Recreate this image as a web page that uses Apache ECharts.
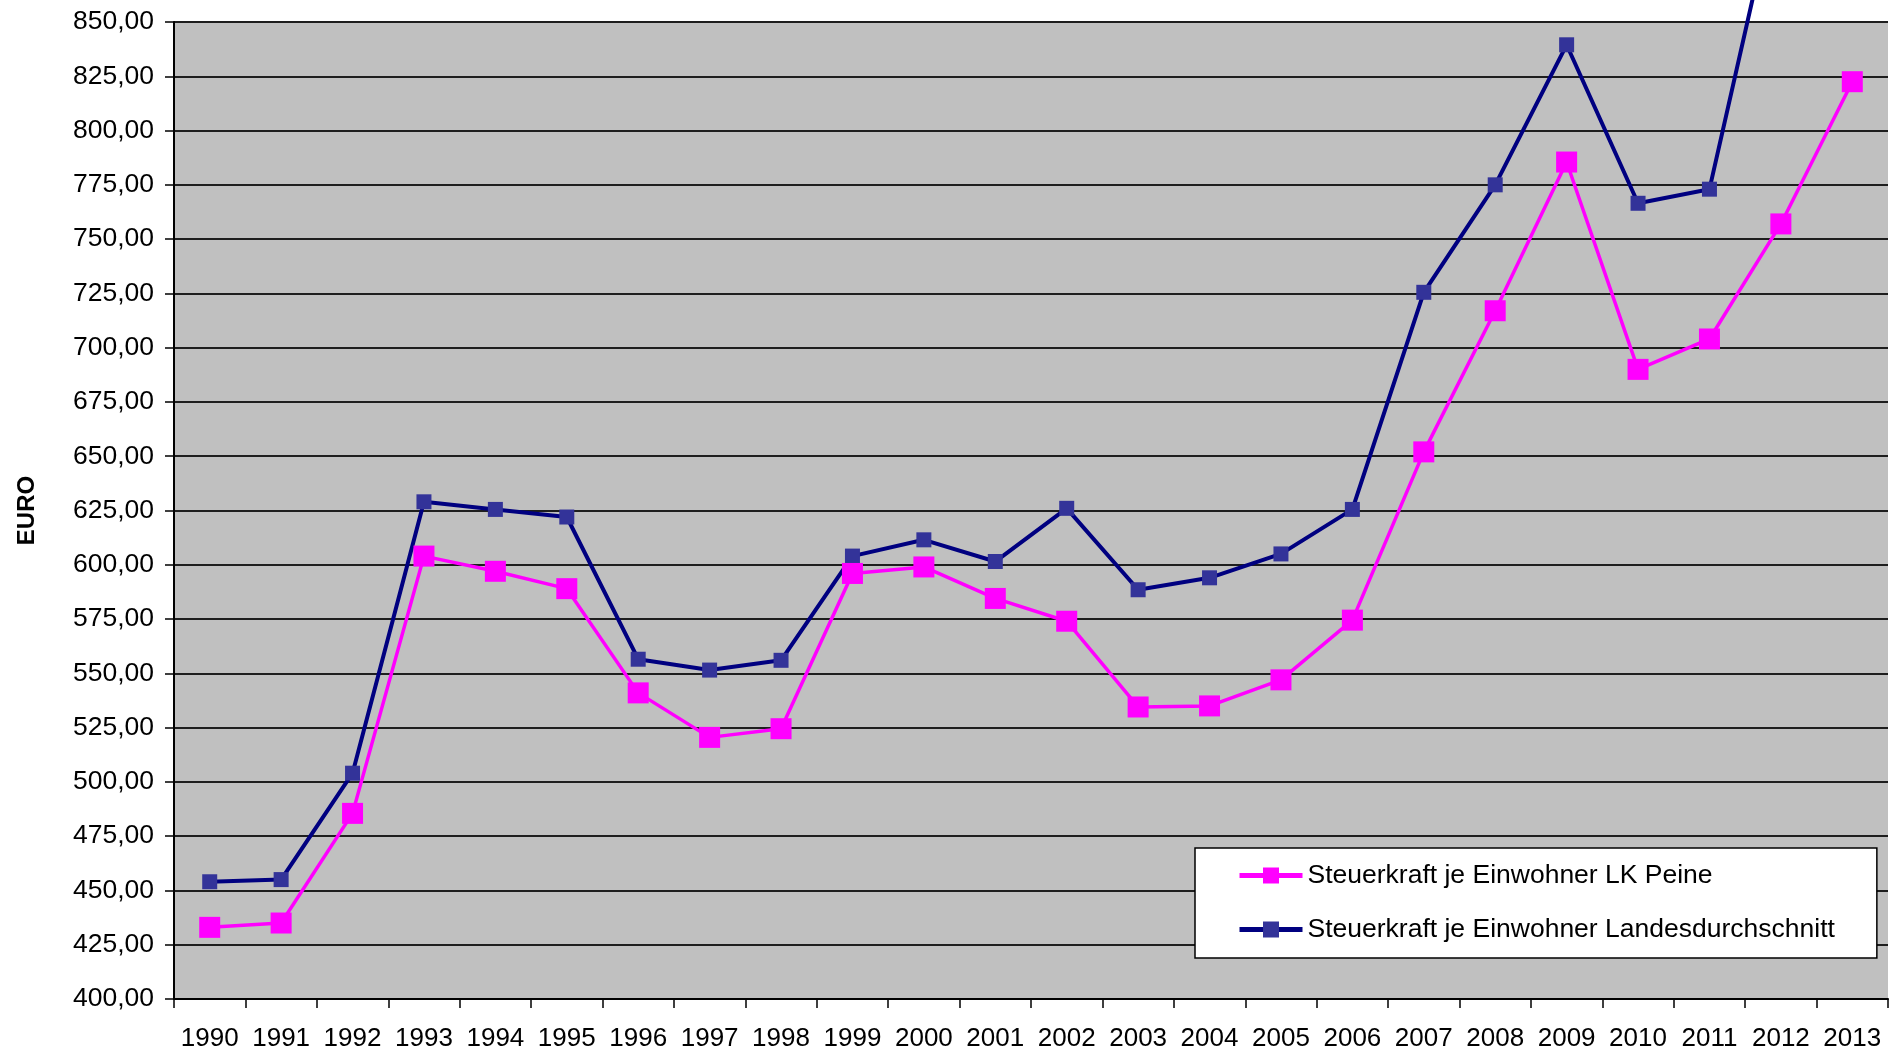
<!DOCTYPE html>
<html><head><meta charset="UTF-8">
<title>Steuerkraft je Einwohner</title>
<script src="https://cdn.jsdelivr.net/npm/echarts@6/dist/echarts.min.js"></script>
<style>
  html, body { margin: 0; padding: 0; background: #fff; }
  #chart { width: 1895px; height: 1054px; }
</style>
</head>
<body>
<div id="chart"></div>
<script type="text/javascript">
// Jahre
var years = ['1990', '1991', '1992', '1993', '1994', '1995', '1996', '1997', '1998', '1999', '2000', '2001',
             '2002', '2003', '2004', '2005', '2006', '2007', '2008', '2009', '2010', '2011', '2012', '2013'];

// Steuerkraft je Einwohner LK Peine
var peine = [433, 435, 485.5, 604, 597, 589, 541, 520.5, 524.5, 596, 599, 584.5,
             574, 534.5, 535, 547, 574.5, 652, 717, 785.5, 690, 704, 757, 822.5];

// Steuerkraft je Einwohner Landesdurchschnitt (2012 liegt oberhalb der Skala, 2013 nicht sichtbar)
var landesschnitt = [454, 455, 504, 629, 625.5, 622, 556.5, 551.5, 556, 604, 611.5, 601.5,
                     626, 588.5, 594, 605, 625.5, 725.5, 775, 839.5, 766.5, 773, 918, null];

var seriesNames = ['Steuerkraft je Einwohner LK Peine', 'Steuerkraft je Einwohner Landesdurchschnitt'];

var font = 'Arial, "Liberation Sans", sans-serif';

var option = {
    animation: false,
    backgroundColor: '#ffffff',
    grid: {
        left: 174, right: 7, top: 22, bottom: 55,
        show: true,
        backgroundColor: '#c0c0c0',
        borderWidth: 0
    },
    legend: {
        orient: 'vertical',
        left: 1195,
        top: 848,
        data: seriesNames,
        backgroundColor: '#ffffff',
        borderColor: '#000000',
        borderWidth: 1.5,
        padding: [14, 42, 15, 42],
        itemGap: 27,
        itemWidth: 63,
        itemHeight: 20,
        lineStyle: { width: 5 },
        textStyle: { fontFamily: font, fontSize: 26.5, color: '#000' }
    },
    xAxis: {
        type: 'category',
        data: years,
        boundaryGap: true,
        axisLine: { lineStyle: { color: '#000', width: 2 } },
        axisTick: { show: true, length: 9, lineStyle: { color: '#000', width: 1.5 } },
        axisLabel: { interval: 0, fontFamily: font, fontSize: 26, color: '#000', margin: 27 },
        splitLine: { show: false }
    },
    yAxis: {
        type: 'value',
        min: 400,
        max: 850,
        interval: 25,
        name: 'EURO',
        nameLocation: 'middle',
        nameRotate: 90,
        nameGap: 135,
        nameTextStyle: { fontFamily: font, fontSize: 24, fontWeight: 'bold', color: '#000' },
        axisLine: { show: true, lineStyle: { color: '#000', width: 2 } },
        axisTick: { show: true, length: 9, lineStyle: { color: '#000', width: 1.5 } },
        axisLabel: {
            fontFamily: font, fontSize: 26.5, color: '#000', margin: 20,
            formatter: function (v) { return v.toFixed(2).replace('.', ','); }
        },
        splitLine: { show: true, lineStyle: { color: '#1e1e1e', width: 2 } }
    },
    series: [
        {
            name: seriesNames[1],
            type: 'line',
            data: landesschnitt,
            clip: false,
            z: 2,
            symbol: 'rect',
            symbolSize: 15,
            lineStyle: { color: '#000080', width: 4 },
            itemStyle: { color: '#333399', borderWidth: 0 }
        },
        {
            name: seriesNames[0],
            type: 'line',
            data: peine,
            z: 3,
            symbol: 'rect',
            symbolSize: 21,
            lineStyle: { color: '#ff00ff', width: 3.5 },
            itemStyle: { color: '#ff00ff', borderWidth: 0 }
        }
    ]
};

var myChart = echarts.init(document.getElementById('chart'));
myChart.setOption(option);
</script>
</body>
</html>
